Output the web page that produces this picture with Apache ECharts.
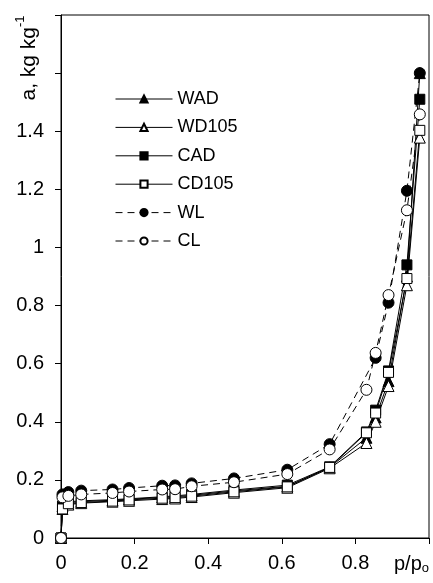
<!DOCTYPE html>
<html>
<head>
<meta charset="utf-8">
<script src="https://cdn.jsdelivr.net/npm/echarts@6/dist/echarts.min.js"></script>
<style>
  html, body { margin: 0; padding: 0; background: #fff; }
  #chart { width: 433px; height: 583px; }
</style>
</head>
<body>
<div id="chart"></div>
<script>
// relative pressure p/po
const pp = [0, 0.004, 0.02, 0.055, 0.14, 0.185, 0.275, 0.31, 0.355, 0.47, 0.615, 0.73, 0.83, 0.855, 0.89, 0.94, 0.975];

// sorption a, kg kg-1
const wad   = [0, 0.11, 0.122, 0.125, 0.13, 0.133, 0.14, 0.142, 0.147, 0.162, 0.178, 0.243, 0.345, 0.415, 0.54, 0.90, 1.60];
const wd105 = [0, 0.10, 0.115, 0.12, 0.125, 0.128, 0.134, 0.136, 0.141, 0.156, 0.173, 0.24, 0.327, 0.40, 0.523, 0.87, 1.378];
const cad   = [0, 0.11, 0.125, 0.128, 0.132, 0.135, 0.142, 0.145, 0.15, 0.165, 0.182, 0.245, 0.365, 0.44, 0.575, 0.94, 1.51];
const cd105 = [0, 0.10, 0.118, 0.122, 0.127, 0.131, 0.137, 0.139, 0.144, 0.159, 0.176, 0.243, 0.362, 0.43, 0.57, 0.893, 1.403];
const wl    = [0, 0.15, 0.158, 0.163, 0.167, 0.172, 0.18, 0.181, 0.188, 0.205, 0.235, 0.323, null, 0.62, 0.81, 1.195, 1.60];
const cl    = [0, 0.14, 0.145, 0.15, 0.155, 0.16, 0.167, 0.168, 0.178, 0.192, 0.22, 0.305, 0.51, 0.637, 0.836, 1.128, 1.458];

const yTicksShown = [0, 0.2, 0.4, 0.6, 0.8, 1, 1.2, 1.4];

const font = 'Liberation Sans, Arial, sans-serif';

function pairs(ys) {
  return pp.map((x, i) => [x, ys[i]]);
}

function mkSeries(name, ys, symbol, filled, dashed) {
  return {
    name: name,
    type: 'line',
    data: pairs(ys),
    connectNulls: true,
    symbol: symbol,
    symbolSize: symbol === 'rect' ? 10 : 11,
    showAllSymbol: true,
    lineStyle: { color: '#000', width: 1, type: dashed ? [7, 5] : 'solid' },
    itemStyle: { color: filled ? '#000' : '#fff', borderColor: '#000', borderWidth: 1 },
    emphasis: { disabled: true },
    animation: false,
  };
}

const chart = echarts.init(document.getElementById('chart'));

chart.setOption({
  backgroundColor: '#fff',
  textStyle: { fontFamily: font },
  grid: { left: 61, top: 15, right: 4, bottom: 45, show: true, borderColor: '#000', borderWidth: 1 },
  legend: {
    orient: 'vertical',
    left: 110,
    top: 85,
    padding: 5,
    itemWidth: 57,
    itemHeight: 9,
    itemGap: 10.4,
    lineStyle: { width: 1 },
    textStyle: { fontSize: 18, lineHeight: 18, color: '#000', fontFamily: font },
    data: ['WAD', 'WD105', 'CAD', 'CD105', 'WL', 'CL'],
  },
  xAxis: {
    type: 'value',
    min: 0,
    max: 1,
    interval: 0.2,
    axisLine: { lineStyle: { color: '#000', width: 1 } },
    axisTick: { show: true, length: 6, lineStyle: { color: '#000' } },
    splitLine: { show: false },
    axisLabel: {
      margin: 15,
      fontSize: 20,
      color: '#000',
      alignMaxLabel: 'right',
      formatter: v => (v === 1 ? '{p|p/p}{o|o}' : String(v)),
      rich: {
        p: { fontSize: 20, color: '#000', fontFamily: font, lineHeight: 22 },
        o: { fontSize: 13, color: '#000', fontFamily: font, verticalAlign: 'bottom', lineHeight: 13, padding: [7, 0, 0, 0] },
      },
    },
  },
  yAxis: {
    type: 'value',
    min: 0,
    max: 1.8,
    interval: 0.2,
    axisLine: { show: true, lineStyle: { color: '#000', width: 1 } },
    axisTick: { show: true, length: 6, lineStyle: { color: '#000' } },
    splitLine: { show: false },
    axisLabel: {
      margin: 17,
      fontSize: 20,
      color: '#000',
      formatter: v => {
        const r = Math.round(v * 10) / 10;
        return yTicksShown.indexOf(r) >= 0 ? String(r) : '';
      },
    },
  },
  graphic: [{
    type: 'text',
    x: 27,
    y: 58,
    rotation: Math.PI / 2,
    style: {
      text: '{m|a, kg kg}{s|-1}',
      align: 'center',
      verticalAlign: 'middle',
      rich: {
        m: { fontSize: 21, fill: '#000', fontFamily: font, lineHeight: 26, verticalAlign: 'bottom' },
        s: { fontSize: 13, fill: '#000', fontFamily: font, lineHeight: 26, verticalAlign: 'top' },
      },
    },
  }],
  series: [
    mkSeries('WAD', wad, 'triangle', true, false),
    mkSeries('WD105', wd105, 'triangle', false, false),
    mkSeries('CAD', cad, 'rect', true, false),
    mkSeries('CD105', cd105, 'rect', false, false),
    mkSeries('WL', wl, 'circle', true, true),
    mkSeries('CL', cl, 'circle', false, true),
  ],
});

window.addEventListener('resize', () => chart.resize());
</script>
</body>
</html>
